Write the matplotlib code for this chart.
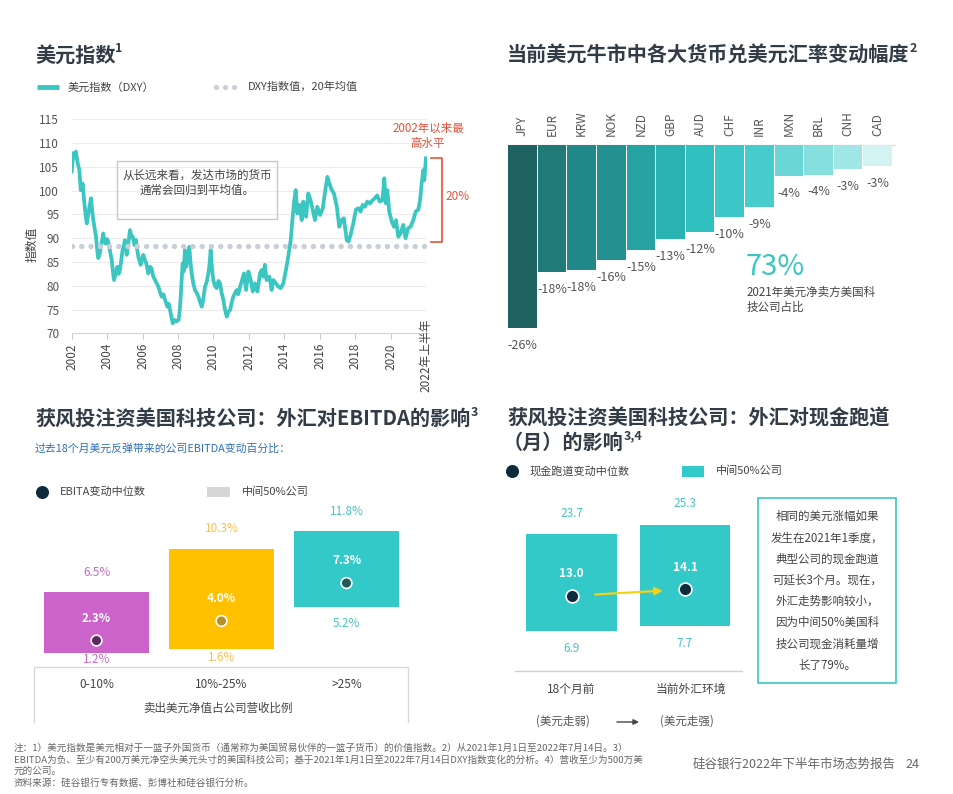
import matplotlib
matplotlib.use('Agg')
import matplotlib.pyplot as plt
from matplotlib.patches import Rectangle
from matplotlib.lines import Line2D
from matplotlib.transforms import blended_transform_factory

plt.rcParams['font.family'] = ['Noto Sans CJK SC', 'DejaVu Sans']

# ---------------- data ----------------
dxy_t = [2002.00, 2002.09, 2002.16, 2002.24, 2002.32, 2002.43, 2002.51, 2002.62, 2002.69, 2002.78,
         2002.85, 2002.94, 2003.02, 2003.09, 2003.15, 2003.22, 2003.30, 2003.37, 2003.44, 2003.50,
         2003.57, 2003.64, 2003.71, 2003.78, 2003.85, 2003.91, 2004.00, 2004.06, 2004.15, 2004.26,
         2004.33, 2004.39, 2004.48, 2004.57, 2004.65, 2004.73, 2004.80, 2004.87, 2004.94, 2005.00,
         2005.10, 2005.20, 2005.29, 2005.36, 2005.44, 2005.55, 2005.63, 2005.70, 2005.76, 2005.89,
         2005.96, 2006.04, 2006.12, 2006.20, 2006.32, 2006.40, 2006.50, 2006.60, 2006.70, 2006.80,
         2006.89, 2007.00, 2007.08, 2007.18, 2007.27, 2007.40, 2007.48, 2007.55, 2007.62, 2007.70,
         2007.80, 2007.90, 2008.03, 2008.10, 2008.15, 2008.20, 2008.26, 2008.32, 2008.39, 2008.47,
         2008.55, 2008.64, 2008.70, 2008.77, 2008.86, 2008.96, 2009.05, 2009.15, 2009.25, 2009.34,
         2009.42, 2009.52, 2009.62, 2009.71, 2009.78, 2009.84, 2009.92, 2009.99, 2010.08, 2010.18,
         2010.28, 2010.37, 2010.46, 2010.56, 2010.65, 2010.75, 2010.84, 2010.94, 2011.03, 2011.12,
         2011.22, 2011.31, 2011.40, 2011.50, 2011.60, 2011.72, 2011.84, 2011.97, 2012.10, 2012.22,
         2012.34, 2012.48, 2012.63, 2012.72, 2012.82, 2012.90, 2013.00, 2013.16, 2013.28, 2013.38,
         2013.53, 2013.66, 2013.80, 2013.94, 2014.09, 2014.22, 2014.36, 2014.47, 2014.56, 2014.64,
         2014.73, 2014.85, 2014.98, 2015.07, 2015.15, 2015.23, 2015.35, 2015.48, 2015.60, 2015.73,
         2015.86, 2016.02, 2016.17, 2016.30, 2016.43, 2016.54, 2016.68, 2016.80, 2016.96, 2017.10,
         2017.23, 2017.36, 2017.52, 2017.62, 2017.74, 2017.89, 2018.04, 2018.17, 2018.30, 2018.42,
         2018.55, 2018.68, 2018.83, 2018.98, 2019.11, 2019.24, 2019.39, 2019.54, 2019.64, 2019.73,
         2019.81, 2019.92, 2020.06, 2020.19, 2020.30, 2020.43, 2020.56, 2020.71, 2020.84, 2020.99,
         2021.12, 2021.28, 2021.41, 2021.56, 2021.66, 2021.75, 2021.84, 2021.90, 2021.99]
dxy_v = [104.0, 107.9, 107.0, 108.2, 106.1, 104.3, 100.1, 101.5, 98.4, 95.0,
         93.1, 95.2, 97.0, 98.4, 96.0, 93.8, 92.0, 90.3, 87.5, 85.8,
         86.5, 88.2, 89.5, 91.0, 89.5, 88.9, 89.8, 89.3, 87.5, 85.4,
         82.8, 81.2, 82.5, 84.0, 82.5, 83.5, 85.5, 87.5, 88.5, 89.6,
         86.5, 89.0, 91.7, 90.5, 90.3, 88.5, 89.6, 87.5, 86.1, 84.4,
         85.5, 86.5, 85.5, 84.8, 82.6, 84.0, 83.7, 82.0, 81.2, 80.5,
         79.8, 78.5, 77.7, 78.2, 77.0, 75.6, 76.2, 74.9, 73.5, 72.1,
         72.8, 72.5, 72.8, 75.0, 77.7, 81.0, 84.7, 83.0, 87.5, 84.0,
         86.0, 88.2, 85.0, 82.6, 80.5, 79.1, 78.5, 77.7, 76.5, 75.6,
         77.0, 79.8, 80.8, 82.6, 84.5, 87.5, 83.5, 81.2, 80.0, 79.5,
         81.0, 80.5, 78.5, 77.0, 75.0, 73.5, 74.5, 74.9, 76.5, 77.7,
         78.5, 79.1, 78.2, 79.8, 81.0, 82.6, 79.1, 83.0, 81.2, 78.8,
         80.5, 78.8, 82.6, 83.3, 81.9, 84.4, 81.2, 81.9, 79.1, 81.2,
         80.5, 79.8, 79.5, 80.5, 83.3, 86.1, 89.6, 94.5, 98.0, 100.1,
         95.2, 97.0, 93.8, 97.7, 96.0, 94.5, 99.4, 98.0, 96.0, 93.8,
         96.6, 94.9, 96.3, 99.8, 102.9, 101.5, 100.1, 99.4, 96.6, 92.4,
         93.8, 94.2, 89.6, 89.3, 90.7, 93.1, 96.0, 96.3, 95.6, 97.0,
         96.6, 97.7, 97.3, 98.0, 98.4, 99.0, 97.7, 98.0, 102.6, 97.3,
         100.1, 95.6, 93.5, 92.4, 93.8, 90.3, 91.0, 92.8, 90.0, 92.1,
         92.4, 93.8, 95.6, 96.0, 98.0, 101.5, 104.3, 102.2, 106.8]
dxy_mean = 88.3
dxy_low_ref = 89.3
year_ticks = [2002, 2004, 2006, 2008, 2010, 2012, 2014, 2016, 2018, 2020]
y_ticks = [70, 75, 80, 85, 90, 95, 100, 105, 110, 115]

currencies = ['JPY', 'EUR', 'KRW', 'NOK', 'NZD', 'GBP', 'AUD', 'CHF', 'INR', 'MXN', 'BRL', 'CNH', 'CAD']
fx_change = [-26.0, -18.0, -17.8, -16.3, -14.9, -13.4, -12.4, -10.2, -8.8, -4.4, -4.2, -3.4, -3.0]

ebitda_cats = ['0-10%', '10%-25%', '>25%']
ebitda_low = [1.2, 1.6, 5.2]
ebitda_high = [6.5, 10.3, 11.8]
ebitda_median = [2.3, 4.0, 7.3]

runway_cats = ['18个月前', '当前外汇环境']
runway_sub = ['(美元走弱)', '(美元走强)']
runway_low = [6.9, 7.7]
runway_high = [23.7, 25.3]
runway_median = [13.0, 14.1]

# ---------------- styles ----------------
W, H = 954, 794
TC = '#323c46'
TEAL = '#3cc6c1'
RED = '#e8503a'
GRAY = '#555555'
bar_colors = ['#1e6262', '#1f7a78', '#21898a', '#23918f', '#27a3a3', '#2ab1b1', '#30c0c0',
              '#3cc8c8', '#46cccc', '#6ad6d6', '#86dfdf', '#a2e7e7', '#d3f3f3']
box_colors = ['#cb63cb', '#ffc000', '#33c9c9']
text_colors = ['#c56cc5', '#f7c24f', '#4cc4c4']
dot_colors = ['#5e2a5e', '#b8902a', '#1f5a5a']
NAVY = '#0e2a3d'

fig = plt.figure(figsize=(9.54, 7.94), dpi=100)
fig.patch.set_facecolor('white')
ov = fig.add_axes([0, 0, 1, 1], zorder=5)
ov.set_xlim(0, W)
ov.set_ylim(H, 0)
ov.set_autoscale_on(False)
ov.axis('off')
ov.patch.set_visible(False)


def pax(x0, y0, x1, y1):
    a = fig.add_axes([x0 / W, 1 - y1 / H, (x1 - x0) / W, (y1 - y0) / H])
    a.patch.set_visible(False)
    return a


renderer = fig.canvas.get_renderer()


def title(x, y, main, sup, size=14.5):
    t = ov.text(x, y, main, fontsize=size, weight='bold', color=TC, va='center', ha='left')
    bb = t.get_window_extent(renderer=renderer)
    xe = ov.transData.inverted().transform((bb.x1, bb.y1))[0]
    ov.text(xe, y - 6, sup, fontsize=size * 0.62, weight='bold', color=TC, va='center', ha='left')


# ================= Panel 1: DXY =================
title(35, 55, '美元指数', '1')
ov.add_artist(Line2D([37, 59], [87, 87], color=TEAL, lw=3.5, solid_capstyle='butt'))
ov.text(68, 87, '美元指数（DXY）', fontsize=8, color='#444', va='center')
ov.add_artist(Line2D([216, 237], [87, 87], color='#c9cfd6', lw=3.8, ls=(0, (0.01, 1.7)),
                     dash_capstyle='round'))
ov.text(248, 87, 'DXY指数值，20年均值', fontsize=8, color='#444', va='center')

ax1 = pax(71.7, 119.3, 427, 333.3)
ax1.set_xlim(2002, 2002 + (427 - 71.7) / 17.72)
ax1.set_ylim(70, 115)
for v in y_ticks[1:]:
    ax1.axhline(v, color='#ececec', lw=0.8, zorder=0)
ax1.plot(dxy_t, dxy_v, color=TEAL, lw=2.7, solid_joinstyle='round', zorder=2)
ax1.axhline(dxy_mean, color='#c9cfd6', lw=3.9, ls=(0, (0.01, 1.7)), dash_capstyle='round', zorder=3)
for s in ['top', 'right', 'left']:
    ax1.spines[s].set_visible(False)
ax1.spines['bottom'].set_color('#d5d5d5')
ax1.set_xticks(year_ticks)
ax1.set_xticklabels([str(y) for y in year_ticks], rotation=90)
ax1.set_yticks(y_ticks)
ax1.tick_params(axis='x', length=4, color='#cccccc', pad=3, labelsize=8.5, labelcolor='#444')
ax1.tick_params(axis='y', length=0, pad=9, labelsize=8.5, labelcolor='#555')
ov.text(426, 318, '2022年上半年', rotation=90, fontsize=8.5, color='#444', ha='center', va='top')
ov.text(32, 244, '指数值', rotation=90, fontsize=8.5, color='#444', ha='center', va='center')

ov.add_patch(Rectangle((117, 161), 160, 58, fill=False, ec='#c8c8c8', lw=1))
ov.text(197, 175, '从长远来看，发达市场的货币', fontsize=8.3, color='#444', ha='center', va='center')
ov.text(197, 190, '通常会回归到平均值。', fontsize=8.3, color='#444', ha='center', va='center')

ov.text(428, 128, '2002年以来最', fontsize=8.3, color=RED, ha='center', va='center')
ov.text(428, 143, '高水平', fontsize=8.3, color=RED, ha='center', va='center')
bt = blended_transform_factory(ov.transData, ax1.transData)
ov.add_artist(Line2D([431, 441.7, 441.7, 431], [dxy_v[-1], dxy_v[-1], dxy_low_ref, dxy_low_ref],
                     transform=bt, color=RED, lw=1.2))
pct = (dxy_v[-1] / dxy_low_ref - 1) * 100
ov.text(458, 197, f'{pct:.0f}%', fontsize=8.5, color=RED, ha='center', va='center')

# ================= Panel 2: FX bars =================
title(507, 55, '当前美元牛市中各大货币兑美元汇率变动幅度', '2')
ax2 = pax(507.7, 145, 892.5, 145 + 7.04 * 28)
ax2.set_xlim(-0.5, 12.5)
ax2.set_ylim(-28, 0)
ax2.axis('off')
xs = list(range(len(currencies)))
ax2.bar(xs, fx_change, width=0.96, color=bar_colors, zorder=2)
ax2.plot([-0.5, 12.6], [0, 0], color='#dcdcdc', lw=1, zorder=1, clip_on=False)
for i, (c, v) in enumerate(zip(currencies, fx_change)):
    ax2.annotate(c, (i, 0), xytext=(0, 6.5), textcoords='offset points', rotation=90,
                 ha='center', va='bottom', fontsize=8.5, color=GRAY, annotation_clip=False)
    ax2.annotate(f'{round(v):d}%', (i, v), xytext=(0, -12.5), textcoords='offset points',
                 ha='center', va='center', fontsize=9, color=GRAY, annotation_clip=False)
ov.text(746, 267, '73%', fontsize=21, color=TEAL, ha='left', va='center')
ov.text(747, 292, '2021年美元净卖方美国科', fontsize=8.3, color='#444', va='center')
ov.text(747, 307, '技公司占比', fontsize=8.3, color='#444', va='center')

# ================= Panel 3: EBITDA =================
title(35, 418, '获风投注资美国科技公司：外汇对EBITDA的影响', '3')
ov.text(35, 448, '过去18个月美元反弹带来的公司EBITDA变动百分比：', fontsize=7.8, color='#2f6fb7', va='center')
ov.scatter([42], [492], s=70, color=NAVY, zorder=6)
ov.text(60, 492, 'EBITA变动中位数', fontsize=8, color='#444', va='center')
ov.add_patch(Rectangle((207, 487), 23, 10, color='#d6d6d6', lw=0))
ov.text(242, 492, '中间50%公司', fontsize=8, color='#444', va='center')

ax3 = pax(34, 480, 409, 667)
ax3.set_xlim(-0.5, 2.5)
ax3.set_ylim(0, (667 - 480) / 11.5)
ax3.axis('off')
ex = list(range(len(ebitda_cats)))
ax3.bar(ex, [h - l for h, l in zip(ebitda_high, ebitda_low)], bottom=ebitda_low, width=0.84,
        color=box_colors, zorder=2)
ax3.scatter(ex, ebitda_median, s=60, c=dot_colors, edgecolors='white', linewidths=1.2, zorder=3)
low_offsets = [-4.5, -6.5, -11.5]
for i in ex:
    ax3.annotate(f'{ebitda_median[i]:.1f}%', (i, ebitda_median[i]), xytext=(0, 16),
                 textcoords='offset points', ha='center', va='center', fontsize=8.5,
                 color='white', weight='bold')
    ax3.annotate(f'{ebitda_high[i]:.1f}%', (i, ebitda_high[i]), xytext=(0, 14.5),
                 textcoords='offset points', ha='center', va='center', fontsize=8.5,
                 color=text_colors[i], annotation_clip=False)
    ax3.annotate(f'{ebitda_low[i]:.1f}%', (i, ebitda_low[i]), xytext=(0, low_offsets[i]),
                 textcoords='offset points', ha='center', va='center', fontsize=8.5,
                 color=text_colors[i], annotation_clip=False)
ov.add_artist(Line2D([34, 34, 408, 408], [722, 667, 667, 722], color='#d8d8d8', lw=1))
for i, c in enumerate(ebitda_cats):
    ov.text(96.5 + 125 * i, 684, c, fontsize=8.5, color='#444', ha='center', va='center')
ov.text(218, 708, '卖出美元净值占公司营收比例', fontsize=8.3, color='#444', ha='center', va='center')

# ================= Panel 4: cash runway =================
ov.text(507, 418, '获风投注资美国科技公司：外汇对现金跑道', fontsize=14.5, weight='bold', color=TC, va='center')
title(503, 442, '（月）的影响', '3,4')
ov.scatter([512], [471], s=70, color=NAVY, zorder=6)
ov.text(530, 471, '现金跑道变动中位数', fontsize=8, color='#444', va='center')
ov.add_patch(Rectangle((682, 466), 22, 11, color='#33c9c9', lw=0))
ov.text(716, 471, '中间50%公司', fontsize=8, color='#444', va='center')

ax4 = pax(514.75, 490, 741.75, 670.8)
ax4.set_xlim(-0.5, 1.5)
ax4.set_ylim(0, (670.8 - 490) / 5.77)
ax4.axis('off')
rx = list(range(len(runway_cats)))
ax4.bar(rx, [h - l for h, l in zip(runway_high, runway_low)], bottom=runway_low, width=0.8,
        color='#33c9c9', zorder=2)
ax4.scatter(rx, runway_median, s=85, c=NAVY, edgecolors='white', linewidths=1.2, zorder=4)
ax4.plot([-0.5, 1.5], [0, 0], color='#d0d0d0', lw=1, clip_on=False)
ax4.annotate('', xy=(rx[1], runway_median[1]), xytext=(rx[0], runway_median[0]),
             arrowprops=dict(arrowstyle='-|>', color='#f2d21b', lw=1.6, shrinkA=17, shrinkB=16,
                             mutation_scale=11), zorder=3)
for i in rx:
    ax4.annotate(f'{runway_median[i]:.1f}', (i, runway_median[i]), xytext=(0, 16),
                 textcoords='offset points', ha='center', va='center', fontsize=8.5,
                 color='white', weight='bold')
    ax4.annotate(f'{runway_high[i]:.1f}', (i, runway_high[i]), xytext=(0, 15),
                 textcoords='offset points', ha='center', va='center', fontsize=8.5,
                 color='#4cc0c4', annotation_clip=False)
    ax4.annotate(f'{runway_low[i]:.1f}', (i, runway_low[i]), xytext=(0, -12.5),
                 textcoords='offset points', ha='center', va='center', fontsize=8.5,
                 color='#4cc0c4', annotation_clip=False)
cat_x = [571.5, 691]
sub_x = [563, 687]
for i in rx:
    ov.text(cat_x[i], 689, runway_cats[i], fontsize=8.5, color='#444', ha='center', va='center')
    ov.text(sub_x[i], 721, runway_sub[i], fontsize=8.3, color='#555', ha='center', va='center',
            style='italic')
ov.annotate('', xy=(639, 722), xytext=(617, 722),
            arrowprops=dict(arrowstyle='-|>', color='#444', lw=1, mutation_scale=8,
                            shrinkA=0, shrinkB=0))

ov.add_patch(Rectangle((758, 498), 138, 185, fill=False, ec=TEAL, lw=1.2))
box_lines = ['相同的美元涨幅如果', '发生在2021年1季度，', '典型公司的现金跑道', '可延长3个月。现在，',
             '外汇走势影响较小，', '因为中间50%美国科', '技公司现金消耗量增', '长了79%。']
for k, line in enumerate(box_lines):
    ov.text(827, 516.7 + 21.2 * k, line, fontsize=8.3, color='#444', ha='center', va='center')

# ================= Footer =================
foot = ['注：1）美元指数是美元相对于一篮子外国货币（通常称为美国贸易伙伴的一篮子货币）的价值指数。2）从2021年1月1日至2022年7月14日。3）',
        'EBITDA为负、至少有200万美元净空头美元头寸的美国科技公司；基于2021年1月1日至2022年7月14日DXY指数变化的分析。4）营收至少为500万美',
        '元的公司。',
        '资料来源：硅谷银行专有数据、彭博社和硅谷银行分析。']
for k, (line, y) in enumerate(zip(foot, [748, 760, 771, 783])):
    ov.text(14, y, line, fontsize=6.9, color='#666', va='center')
ov.text(693, 764, '硅谷银行2022年下半年市场态势报告', fontsize=9, color='#666', va='center')
ov.text(905, 764, '24', fontsize=9, color='#666', va='center')

fig.savefig('out.png', dpi=100, facecolor='white')
